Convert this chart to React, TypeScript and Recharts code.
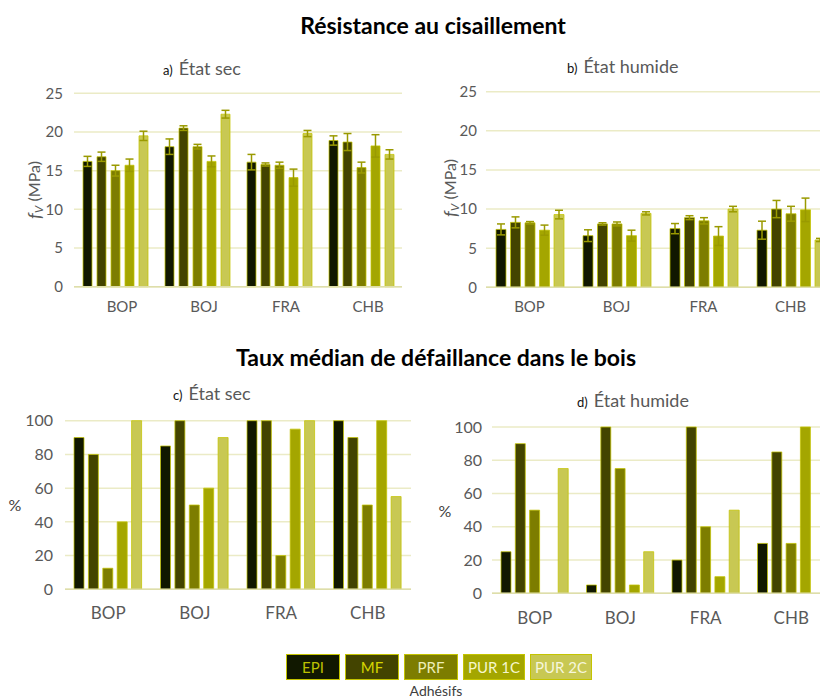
import React from 'react';
import { BarChart, Bar, XAxis, YAxis, CartesianGrid, ErrorBar } from 'recharts';

const categories = ['BOP', 'BOJ', 'FRA', 'CHB'];
const adhesives = ['EPI', 'MF', 'PRF', 'PUR 1C', 'PUR 2C'];

// a) Résistance au cisaillement – état sec (MPa)
const dryShearEPI = [16.2, 18.1, 16.1, 18.9];
const dryShearMF = [16.8, 20.5, 15.8, 18.7];
const dryShearPRF = [15.0, 18.1, 15.7, 15.4];
const dryShearPUR1C = [15.7, 16.2, 14.1, 18.2];
const dryShearPUR2C = [19.5, 22.3, 19.8, 17.1];
const dryErrEPI = [0.65, 1.0, 1.0, 0.6];
const dryErrMF = [0.6, 0.3, 0.2, 1.1];
const dryErrPRF = [0.7, 0.3, 0.4, 0.7];
const dryErrPUR1C = [0.8, 0.7, 1.1, 1.45];
const dryErrPUR2C = [0.6, 0.5, 0.4, 0.6];

// b) Résistance au cisaillement – état humide (MPa)
const wetShearEPI = [7.4, 6.6, 7.5, 7.3];
const wetShearMF = [8.3, 8.1, 8.9, 10.0];
const wetShearPRF = [8.25, 8.1, 8.5, 9.4];
const wetShearPUR1C = [7.3, 6.6, 6.55, 9.9];
const wetShearPUR2C = [9.3, 9.45, 10.0, 6.05];
const wetErrEPI = [0.7, 0.75, 0.65, 1.15];
const wetErrMF = [0.7, 0.15, 0.25, 1.1];
const wetErrPRF = [0.15, 0.25, 0.4, 0.95];
const wetErrPUR1C = [0.65, 0.7, 1.2, 1.5];
const wetErrPUR2C = [0.55, 0.2, 0.35, 0.2];

// c) Taux médian de défaillance dans le bois – état sec (%)
const dryWoodEPI = [90, 85, 100, 100];
const dryWoodMF = [80, 100, 100, 90];
const dryWoodPRF = [12.5, 50, 20, 50];
const dryWoodPUR1C = [40, 60, 95, 100];
const dryWoodPUR2C = [100, 90, 100, 55];

// d) Taux médian de défaillance dans le bois – état humide (%)
const wetWoodEPI = [25, 5, 20, 30];
const wetWoodMF = [90, 100, 100, 85];
const wetWoodPRF = [50, 75, 40, 30];
const wetWoodPUR1C = [0, 5, 10, 100];
const wetWoodPUR2C = [75, 25, 50, 0];

const shearTicks = [0, 5, 10, 15, 20, 25];
const pctTicks = [0, 20, 40, 60, 80, 100];

const seriesColors = ['#111800', '#434400', '#7d7d00', '#a4a600', '#c8c853'];
const legendTextColors = ['#bcc000', '#d6d600', '#eeeeb8', '#f6f6cc', '#f6f6dc'];

function buildTable(values: number[][], errors?: number[][]) {
  return categories.map((cat, i) => {
    const row: any = { cat };
    values.forEach((s, k) => {
      row['v' + k] = s[i];
      if (errors) row['e' + k] = errors[k][i];
    });
    return row;
  });
}

const dataA = buildTable(
  [dryShearEPI, dryShearMF, dryShearPRF, dryShearPUR1C, dryShearPUR2C],
  [dryErrEPI, dryErrMF, dryErrPRF, dryErrPUR1C, dryErrPUR2C]
);
const dataB = buildTable(
  [wetShearEPI, wetShearMF, wetShearPRF, wetShearPUR1C, wetShearPUR2C],
  [wetErrEPI, wetErrMF, wetErrPRF, wetErrPUR1C, wetErrPUR2C]
);
const dataC = buildTable([dryWoodEPI, dryWoodMF, dryWoodPRF, dryWoodPUR1C, dryWoodPUR2C]);
const dataD = buildTable([wetWoodEPI, wetWoodMF, wetWoodPRF, wetWoodPUR1C, wetWoodPUR2C]);

type PanelProps = {
  data: any[];
  hasErr: boolean;
  left: number;
  top: number;
  width: number;
  height: number;
  margin: { top: number; right: number; bottom: number; left: number };
  yWidth: number;
  domain: [number, number];
  ticks: number[];
  yFont: number;
  xFont: number;
  yTickMargin: number;
  xTickMargin: number;
  xDx: number;
  barSize: number;
  barGap: number;
  labelKind: 'fv' | 'pct';
  labelX: number;
  labelY: number;
};

function Panel(p: PanelProps) {
  const XTick = (props: any) => {
    const { x, y, payload } = props;
    return (
      <text x={x + p.xDx} y={y} dy="0.71em" textAnchor="middle" fill="#595959" fontSize={p.xFont} fontFamily="Lato, sans-serif">
        {payload.value}
      </text>
    );
  };
  const labelContent = () => {
    if (p.labelKind === 'fv') {
      return (
        <text
          x={p.labelX}
          y={p.labelY}
          textAnchor="middle"
          dominantBaseline="middle"
          transform={`rotate(-90, ${p.labelX}, ${p.labelY})`}
          fill="#595959"
          fontSize={16}
          fontFamily="Lato, sans-serif"
        >
          <tspan fontStyle="italic" fontSize={18}>f</tspan>
          <tspan fontStyle="italic" fontSize={12} dy={4}>V</tspan>
          <tspan dy={-4}> (MPa)</tspan>
        </text>
      );
    }
    return (
      <text x={p.labelX} y={p.labelY} textAnchor="middle" dominantBaseline="middle" fill="#404040" fontSize={16} fontFamily="Lato, sans-serif">
        %
      </text>
    );
  };
  return (
    <div style={{ position: 'absolute', left: p.left, top: p.top }}>
      <BarChart width={p.width} height={p.height} data={p.data} margin={p.margin} barGap={p.barGap}>
        <CartesianGrid vertical={false} stroke="#ebebc6" strokeWidth={1.5} />
        <XAxis
          dataKey="cat"
          tickLine={false}
          axisLine={{ stroke: '#dedeaa', strokeWidth: 1.5 }}
          tickSize={0}
          tickMargin={p.xTickMargin}
          height={30}
          tick={<XTick />}
          interval={0}
        />
        <YAxis
          width={p.yWidth}
          domain={p.domain}
          ticks={p.ticks}
          axisLine={false}
          tickLine={false}
          tickSize={0}
          tickMargin={p.yTickMargin}
          tick={{ fill: '#595959', fontSize: p.yFont, fontFamily: 'Lato, sans-serif' }}
          interval={0}
          label={{ content: labelContent }}
        />
        {adhesives.map((name, k) => (
          <Bar
            key={name}
            dataKey={'v' + k}
            name={name}
            fill={seriesColors[k]}
            stroke="#c4c400"
            strokeOpacity={0.75}
            strokeWidth={1}
            barSize={p.barSize}
            isAnimationActive={false}
          >
            {p.hasErr ? (
              <ErrorBar dataKey={'e' + k} width={4} stroke="#9a9a00" strokeWidth={1.5} direction="y" />
            ) : null}
          </Bar>
        ))}
      </BarChart>
    </div>
  );
}

function SubTitle({ letter, text, left, top }: { letter: string; text: string; left: number; top: number }) {
  return (
    <div style={{ position: 'absolute', left, top: top - 12, height: 24, lineHeight: '24px', whiteSpace: 'nowrap' }}>
      <span style={{ fontSize: 13, color: '#111', marginRight: 6 }}>{letter}</span>
      <span style={{ fontSize: 18, color: '#595959' }}>{text}</span>
    </div>
  );
}

export default function App() {
  return (
    <div
      style={{
        position: 'absolute',
        left: 0,
        top: 0,
        width: 820,
        height: 700,
        overflow: 'hidden',
        background: '#ffffff',
        fontFamily: 'Lato, sans-serif',
      }}
    >
      <div style={{ position: 'absolute', left: 0, width: 866, top: 10, textAlign: 'center', fontSize: 23, fontWeight: 700, color: '#000', lineHeight: '30px' }}>
        Résistance au cisaillement
      </div>
      <div style={{ position: 'absolute', left: 0, width: 872, top: 342, textAlign: 'center', fontSize: 23, fontWeight: 700, color: '#000', lineHeight: '30px' }}>
        Taux médian de défaillance dans le bois
      </div>

      <SubTitle letter="a)" text="État sec" left={163} top={68} />
      <SubTitle letter="b)" text="État humide" left={567} top={66} />
      <SubTitle letter="c)" text="État sec" left={173} top={393} />
      <SubTitle letter="d)" text="État humide" left={577} top={400} />

      <Panel
        data={dataA}
        hasErr={true}
        left={0}
        top={0}
        width={410}
        height={330}
        margin={{ top: 93.3, right: 8, bottom: 13.3, left: 14 }}
        yWidth={60}
        domain={[0, 25]}
        ticks={shearTicks}
        yFont={15}
        xFont={15}
        yTickMargin={11}
        xTickMargin={15}
        xDx={7}
        barSize={9}
        barGap={5}
        labelKind="fv"
        labelX={36}
        labelY={190}
      />
      <Panel
        data={dataB}
        hasErr={true}
        left={410}
        top={0}
        width={424}
        height={330}
        margin={{ top: 91.7, right: 0, bottom: 12.7, left: 16 }}
        yWidth={60}
        domain={[0, 25]}
        ticks={shearTicks}
        yFont={15}
        xFont={15}
        yTickMargin={9}
        xTickMargin={14}
        xDx={0}
        barSize={10}
        barGap={4.5}
        labelKind="fv"
        labelX={42}
        labelY={188}
      />
      <Panel
        data={dataC}
        hasErr={false}
        left={0}
        top={330}
        width={420}
        height={300}
        margin={{ top: 90.7, right: 9, bottom: 10.7, left: 15 }}
        yWidth={50}
        domain={[0, 100]}
        ticks={pctTicks}
        yFont={16}
        xFont={17}
        yTickMargin={12}
        xTickMargin={18}
        xDx={0}
        barSize={10}
        barGap={4.4}
        labelKind="pct"
        labelX={15}
        labelY={177}
      />
      <Panel
        data={dataD}
        hasErr={false}
        left={420}
        top={330}
        width={414}
        height={300}
        margin={{ top: 97, right: 0, bottom: 6.7, left: 22 }}
        yWidth={50}
        domain={[0, 100]}
        ticks={pctTicks}
        yFont={16}
        xFont={17}
        yTickMargin={10}
        xTickMargin={19}
        xDx={0}
        barSize={10}
        barGap={4.3}
        labelKind="pct"
        labelX={25}
        labelY={183}
      />

      <div style={{ position: 'absolute', left: 286, top: 654, display: 'flex', gap: 5 }}>
        {adhesives.map((name, k) => (
          <div
            key={name}
            style={{
              minWidth: 54,
              height: 26,
              boxSizing: 'border-box',
              padding: '0 4px',
              background: seriesColors[k],
              border: '1px solid #c4c400',
              color: legendTextColors[k],
              fontSize: 15,
              lineHeight: '24px',
              textAlign: 'center',
              whiteSpace: 'nowrap',
            }}
          >
            {name}
          </div>
        ))}
      </div>
      <div style={{ position: 'absolute', left: 0, width: 872, top: 682, textAlign: 'center', fontSize: 14, color: '#404040', lineHeight: '17px' }}>
        Adhésifs
      </div>
    </div>
  );
}
